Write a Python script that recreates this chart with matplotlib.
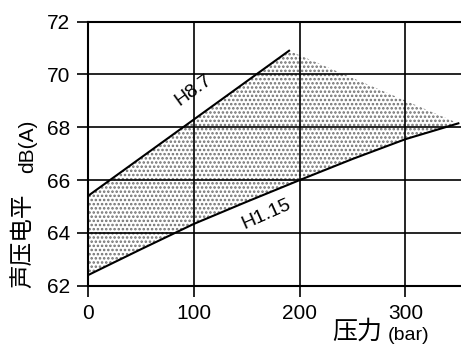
import numpy as np
import matplotlib
matplotlib.use("Agg")
import matplotlib.pyplot as plt

# pressure (bar) vs sound level dB(A)
p_upper = [0, 190]
db_upper = [65.4, 70.9]

p_lower = [0, 50, 100, 150, 200, 250, 300, 350]
db_lower = [62.4, 63.38, 64.34, 65.18, 66.0, 66.8, 67.55, 68.15]

x_ticks = [0, 100, 200, 300]
y_ticks = [62, 64, 66, 68, 70, 72]

plt.rcParams['font.family'] = ['Liberation Sans', 'Noto Sans CJK SC', 'DejaVu Sans']
plt.rcParams['hatch.linewidth'] = 1.2

fig = plt.figure(figsize=(4.61, 3.45), dpi=100)
ax = fig.add_axes([88 / 461, 1 - 285.7 / 345, 1 - 88 / 461, 264 / 345])

# dotted band between the two lines
poly_x = p_upper + p_lower[::-1]
poly_y = db_upper + db_lower[::-1]
ax.fill(poly_x, poly_y, facecolor='white', edgecolor='#707070', hatch='....',
        linewidth=0, zorder=1)

ax.plot(p_upper, db_upper, color='black', lw=1.5, zorder=3)
ax.plot(p_lower, db_lower, color='black', lw=1.5, zorder=3)

ax.set_xlim(0, 352.5)
ax.set_ylim(62, 72)
ax.set_xticks(x_ticks)
ax.set_yticks(y_ticks)
ax.grid(True, color='black', lw=1.2, zorder=2)
ax.set_axisbelow(False)
for s in ['left', 'bottom', 'top']:
    ax.spines[s].set_linewidth(1.5)
ax.spines['right'].set_visible(False)
ax.tick_params(direction='out', length=8, width=1.2, labelsize=15, pad=5)

ax.text(100, 69.4, 'H8.7', rotation=36, ha='center', va='center', fontsize=14)
ax.text(169, 64.72, 'H1.15', rotation=24, ha='center', va='center', fontsize=14)

# axis titles
fig.text(28 / 461, 1 - 146 / 345, 'dB(A)', rotation=90, ha='center', va='center', fontsize=15)
fig.text(23 / 461, 1 - 241 / 345, '声压电平', rotation=90, ha='center', va='center',
         fontsize=17, family=['Noto Sans CJK SC', 'DejaVu Sans'])
fig.text(357 / 461, 1 - 332 / 345, '压力', ha='center', va='center', fontsize=18,
         family=['Noto Sans CJK SC', 'DejaVu Sans'])
fig.text(409 / 461, 1 - 335 / 345, '(bar)', ha='center', va='center', fontsize=14)

fig.savefig('out.png', dpi=100)
